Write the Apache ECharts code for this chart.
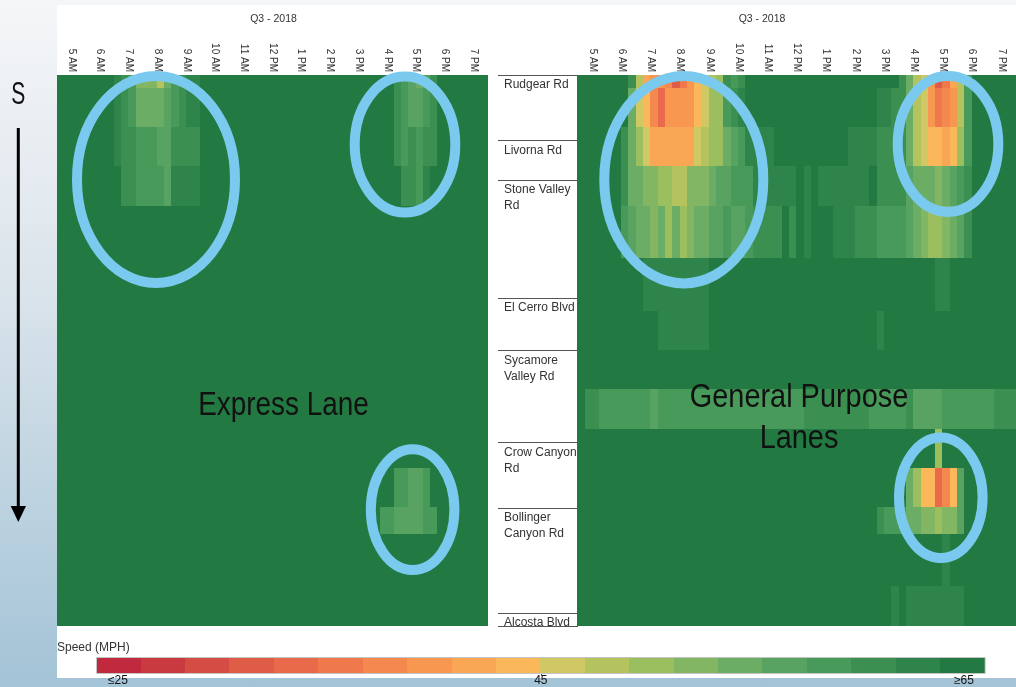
<!DOCTYPE html>
<html>
<head>
<meta charset="utf-8">
<script src="https://cdn.jsdelivr.net/npm/echarts@6/dist/echarts.min.js"></script>
<style>
html,body{margin:0;padding:0;width:1016px;height:687px;overflow:hidden;background:linear-gradient(#f5f6f8 0%,#dce5ec 40%,#a3c3d6 100%);}
#panel{position:absolute;left:57px;top:5px;width:959px;height:673px;background:#fff;}
#chart{position:absolute;left:0;top:0;width:1016px;height:687px;}
</style>
</head>
<body>
<div id="panel"></div>
<div id="chart"></div>
<script>
// ---------- data ----------
const hours = ['5 AM','6 AM','7 AM','8 AM','9 AM','10 AM','11 AM','12 PM','1 PM','2 PM','3 PM','4 PM','5 PM','6 PM','7 PM'];
const binMinutes = [':00',':15',':30',':45'];
const roads = ['Rudgear Rd','Livorna Rd','Stone Valley\nRd','El Cerro Blvd','Sycamore\nValley Rd','Crow Canyon\nRd','Bollinger\nCanyon Rd','Alcosta Blvd'];
const roadStartRows = [0,5,8,17,21,28,33,41];
const rowCount = 42;

// speed bands (mph) of the colour legend
const bandColors = ['#c12a3e','#c93a40','#d54c45','#df5c47','#e86a4a','#f0794b','#f5884e','#f8974f','#f9a754','#fbb85b',
                    '#cfc865','#b4c35d','#9bbe5f','#82b662','#6bad64','#58a362','#489a5b','#3b8f51','#2e844a','#227942'];
const bandEdges = [27,29,31,33,35,37,39,41,43,45,47,49,51,53,55,57,59,61,63];
const bandSpeed = [25,28,30,32,34,36,38,40,42,44,46,48,50,52,54,56,58,60,62,65];
const bandCodes = '0123456789abcdefghi.';
const legendTickValues = [25,45,65];
const legendTickLabels = ['\u226425','45','\u226565'];

// each row: 60 quarter-hour cells (5 AM .. 7:45 PM), one speed-band code per cell
const expressRows = [
'.... .... ihgd ddbe ghii .... .... .... .... .... .... ...h gfef h... ....',
'.... .... ihge eeef ghii .... .... .... .... .... .... ...h gffg h... ....',
'.... .... ihge eeef ghii .... .... .... .... .... .... ...h gffg h... ....',
'.... .... ihge eeef ghii .... .... .... .... .... .... ...h gffg h... ....',
'.... .... ihhg ggff hhhh .... .... .... .... .... .... ...h ghgh h... ....',
'.... .... ihhg ggff hhhh .... .... .... .... .... .... ...h ghgh h... ....',
'.... .... ihhg ggff hhhh .... .... .... .... .... .... ...h ghgh h... ....',
'.... .... .hhg gggf iiii .... .... .... .... .... .... .... hhgi .... ....',
'.... .... .hhg gggf iiii .... .... .... .... .... .... .... hhgi .... ....',
'.... .... .hhg gggf iiii .... .... .... .... .... .... .... hhgi .... ....',
'.... .... .... .... .... .... .... .... .... .... .... .... .... .... ....',
'.... .... .... .... .... .... .... .... .... .... .... .... .... .... ....',
'.... .... .... .... .... .... .... .... .... .... .... .... .... .... ....',
'.... .... .... .... .... .... .... .... .... .... .... .... .... .... ....',
'.... .... .... .... .... .... .... .... .... .... .... .... .... .... ....',
'.... .... .... .... .... .... .... .... .... .... .... .... .... .... ....',
'.... .... .... .... .... .... .... .... .... .... .... .... .... .... ....',
'.... .... .... .... .... .... .... .... .... .... .... .... .... .... ....',
'.... .... .... .... .... .... .... .... .... .... .... .... .... .... ....',
'.... .... .... .... .... .... .... .... .... .... .... .... .... .... ....',
'.... .... .... .... .... .... .... .... .... .... .... .... .... .... ....',
'.... .... .... .... .... .... .... .... .... .... .... .... .... .... ....',
'.... .... .... .... .... .... .... .... .... .... .... .... .... .... ....',
'.... .... .... .... .... .... .... .... .... .... .... .... .... .... ....',
'.... .... .... .... .... .... .... .... .... .... .... .... .... .... ....',
'.... .... .... .... .... .... .... .... .... .... .... .... .... .... ....',
'.... .... .... .... .... .... .... .... .... .... .... .... .... .... ....',
'.... .... .... .... .... .... .... .... .... .... .... .... .... .... ....',
'.... .... .... .... .... .... .... .... .... .... .... .... .... .... ....',
'.... .... .... .... .... .... .... .... .... .... .... .... .... .... ....',
'.... .... .... .... .... .... .... .... .... .... .... ...g gffg .... ....',
'.... .... .... .... .... .... .... .... .... .... .... ...g gffg .... ....',
'.... .... .... .... .... .... .... .... .... .... .... ...g gffg .... ....',
'.... .... .... .... .... .... .... .... .... .... .... .ggf fffg g... ....',
'.... .... .... .... .... .... .... .... .... .... .... .ggf fffg g... ....',
'.... .... .... .... .... .... .... .... .... .... .... .... .... .... ....',
'.... .... .... .... .... .... .... .... .... .... .... .... .... .... ....',
'.... .... .... .... .... .... .... .... .... .... .... .... .... .... ....',
'.... .... .... .... .... .... .... .... .... .... .... .... .... .... ....',
'.... .... .... .... .... .... .... .... .... .... .... .... .... .... ....',
'.... .... .... .... .... .... .... .... .... .... .... .... .... .... ....',
'.... .... .... .... .... .... .... .... .... .... .... .... .... .... ....'
];

const generalRows = [
'.... ...h b877 6357 9abc hgh. .... .... .... .... .... heba 7358 bg.. ....',
'.... ...e a964 7777 9acc ghi. .... .... .... .... .iih heba 7567 bg.. ....',
'.... ...e a964 7777 9acc ghi. .... .... .... .... .iih heba 7567 bg.. ....',
'.... ...e a964 7777 9acc ghi. .... .... .... .... .iih heba 7567 bg.. ....',
'.... ..he ca88 8888 abcc efgi iii. .... .... .iii ihhh heba 9989 cg.. ....',
'.... ..he ca88 8888 abcc efgi iii. .... .... .iii ihhh heba 9989 cg.. ....',
'.... ..he ca88 8888 abcc efgi iii. .... .... .iii ihhh heba 9989 cg.. ....',
'.... ..he eddc cbbd ddef fggg iiii ii.i .iii iiii .hhh hfee edef gh.. ....',
'.... ..he eddc cbbd ddef fggg iiii ii.i .iii iiii .hhh hfee edef gh.. ....',
'.... ..he eddc cbbd ddef fggg iiii ii.i .iii iiii .hhh hfee edef gh.. ....',
'.... ..gf eede cecd eeff gffg hhhh .h.i ...i iihh hggg gfed ccde fh.. ....',
'.... ..gf eede cecd eeff gffg hhhh .h.i ...i iihh hggg gfed ccde fh.. ....',
'.... ..gf eede cecd eeff gffg hhhh .h.i ...i iihh hggg gfed ccde fh.. ....',
'.... ..gf eede cecd eeff gffg hhhh .h.i ...i iihh hggg gfed ccde fh.. ....',
'.... .... .iii iiii ii.. .... .... .... .... .... .... .... .ii. .... ....',
'.... .... .iii iiii ii.. .... .... .... .... .... .... .... .ii. .... ....',
'.... .... .iii iiii ii.. .... .... .... .... .... .... .... .ii. .... ....',
'.... .... .iii iiii ii.. .... .... .... .... .... .... .... .ii. .... ....',
'.... .... ...i iiii ii.. .... .... .... .... .... .i.. .... .... .... ....',
'.... .... ...i iiii ii.. .... .... .... .... .... .i.. .... .... .... ....',
'.... .... ...i iiii ii.. .... .... .... .... .... .i.. .... .... .... ....',
'.... .... .... .... .... .... .... .... .... .... .... .... .... .... ....',
'.... .... .... .... .... .... .... .... .... .... .... .... .... .... ....',
'.... .... .... .... .... .... .... .... .... .... .... .... .... .... ....',
'.hhg gggg ggfg gggg gggg gggg gggg gggh hhhh hhhh gggg ghff ffgg gggg ghhh',
'.hhg gggg ggfg gggg gggg gggg gggg gggh hhhh hhhh gggg ghff ffgg gggg ghhh',
'.hhg gggg ggfg gggg gggg gggg gggg gggh hhhh hhhh gggg ghff ffgg gggg ghhh',
'.... .... .... .... .... .... .... .... .... .... .... .... .c.. .... ....',
'.... .... .... .... .... .... .... .... .... .... .... .... .c.. .... ....',
'.... .... .... .... .... .... .... .... .... .... .... .... .c.. .... ....',
'.... .... .... .... .... .... .... .... .... .... .... .ec9 9469 f... ....',
'.... .... .... .... .... .... .... .... .... .... .... .ec9 9469 f... ....',
'.... .... .... .... .... .... .... .... .... .... .... .ec9 9469 f... ....',
'.... .... .... .... .... .... .... .... .... .... .hgg geed dcdd f... ....',
'.... .... .... .... .... .... .... .... .... .... .hgg geed dcdd f... ....',
'.... .... .... .... .... .... .... .... .... .... .... .... ..i. .... ....',
'.... .... .... .... .... .... .... .... .... .... .... .... ..i. .... ....',
'.... .... .... .... .... .... .... .... .... .... .... .... ..i. .... ....',
'.... .... .... .... .... .... .... .... .... .... .... .... ..i. .... ....',
'.... .... .... .... .... .... .... .... .... .... ...i .iii iiii i... ....',
'.... .... .... .... .... .... .... .... .... .... ...i .iii iiii i... ....',
'.... .... .... .... .... .... .... .... .... .... ...i .iii iiii i... ....'
];

// ---------- build ----------
const bins = hours.flatMap(h => binMinutes.map(m => h + m));
const rowNames = Array.from({length: rowCount}, (_, i) => 'r' + i);
function decode(rows) {
  const out = [];
  rows.forEach((r, y) => {
    const s = r.replace(/ /g, '');
    for (let x = 0; x < s.length; x++) out.push([x, y, bandSpeed[bandCodes.indexOf(s[x])]]);
  });
  return out;
}
const pieces = bandColors.map((c, k) => {
  if (k === 0) return {lt: bandEdges[0], color: c};
  if (k === bandColors.length - 1) return {gte: bandEdges[k - 1], color: c};
  return {gte: bandEdges[k - 1], lt: bandEdges[k], color: c};
});

const sans = "'Liberation Sans', Arial, sans-serif";

const hourAxis = (gi) => ({
  gridIndex: gi, type: 'category', position: 'top', data: hours, boundaryGap: true,
  axisLine: {show: false}, axisTick: {show: false}, splitLine: {show: false},
  axisLabel: {rotate: 90, interval: 0, fontSize: 10, color: '#333', margin: 3, fontFamily: sans}
});
const binAxis = (gi) => ({gridIndex: gi, type: 'category', position: 'bottom', data: bins, show: false, boundaryGap: true});
const rowAxis = (gi) => ({gridIndex: gi, type: 'category', data: rowNames, inverse: true, show: false, boundaryGap: true});

// heat cells: a custom series on category axes, cells snapped to whole pixels so no seams appear
function renderCell(params, api) {
  const c = api.coord([api.value(0), api.value(1)]);
  const s = api.size([1, 1]);
  const x0 = Math.floor(c[0] - s[0] / 2), x1 = Math.ceil(c[0] + s[0] / 2);
  const y0 = Math.floor(c[1] - s[1] / 2), y1 = Math.ceil(c[1] + s[1] / 2);
  return {type: 'rect', shape: {x: x0, y: y0, width: x1 - x0, height: y1 - y0},
          style: {fill: api.visual('color')}};
}
const heat = (xi, yi, data) => ({
  type: 'custom', xAxisIndex: xi, yAxisIndex: yi, data: data, renderItem: renderCell,
  encode: {x: 0, y: 1}, clip: true, silent: true, progressive: 0
});

const ring = (cx, cy, rx, ry) => ({
  type: 'ellipse', shape: {cx, cy, rx, ry}, z: 100, silent: true,
  style: {fill: null, stroke: '#79caee', lineWidth: 10}
});
// condensed caption text (Arial-Narrow look: regular sans squeezed horizontally)
const caption = (x, y, text, size, sx, extra) => ({
  type: 'text', x: x, y: y, scaleX: sx, z: 100, silent: true,
  style: Object.assign({text: text, fontSize: size, fill: '#111', fontFamily: sans, align: 'center', verticalAlign: 'middle'}, extra || {})
});

const option = {
  animation: false,
  visualMap: {type: 'piecewise', show: false, dimension: 2, seriesIndex: [0, 1, 2], pieces: pieces},
  grid: [
    {left: 57, top: 75, width: 431, height: 551},
    {left: 498, top: 75, width: 79.8, height: 551},
    {left: 577.8, top: 75, width: 447, height: 551},
    {left: 96.7, top: 657.7, width: 888.3, height: 15.6}
  ],
  xAxis: [
    binAxis(0), hourAxis(0),
    binAxis(2), hourAxis(2),
    {gridIndex: 1, type: 'value', min: 0, max: 1, show: false},
    {gridIndex: 3, type: 'category', data: bandSpeed.map(String), show: false, boundaryGap: true},
    {gridIndex: 3, type: 'value', min: 24, max: 66, position: 'bottom',
     axisLine: {show: false}, splitLine: {show: false},
     axisTick: {show: true, customValues: [45], length: 3, lineStyle: {color: '#555'}},
     axisLabel: {customValues: legendTickValues, formatter: v => legendTickLabels[legendTickValues.indexOf(v)],
                 margin: 2, fontSize: 12, color: '#111', fontFamily: sans}}
  ],
  yAxis: [
    rowAxis(0), rowAxis(2),
    {gridIndex: 1, type: 'value', min: 0, max: rowCount, inverse: true, position: 'left',
     axisLine: {show: false, onZero: false}, splitLine: {show: false},
     axisTick: {show: true, inside: true, length: 80, customValues: roadStartRows.concat([rowCount]),
                lineStyle: {color: '#555', width: 1}},
     axisLabel: {inside: true, customValues: roadStartRows, formatter: v => roads[roadStartRows.indexOf(v)],
                 verticalAlign: 'top', align: 'left', margin: 6, fontSize: 12, color: '#333', lineHeight: 16,
                 padding: [2, 0, 0, 0], fontFamily: sans}},
    {gridIndex: 3, type: 'category', data: ['speed'], show: false}
  ],
  series: [
    heat(0, 0, decode(expressRows)),
    heat(2, 1, decode(generalRows)),
    heat(5, 3, bandSpeed.map((s, k) => [k, 0, s]))
  ],
  graphic: [
    {type: 'text', x: 273.5, y: 19, z: 100, style: {text: 'Q3 - 2018', fontSize: 10.5, fill: '#333', fontFamily: sans, align: 'center', verticalAlign: 'middle'}},
    {type: 'text', x: 762, y: 19, z: 100, style: {text: 'Q3 - 2018', fontSize: 10.5, fill: '#333', fontFamily: sans, align: 'center', verticalAlign: 'middle'}},
    caption(283.5, 406, 'Express Lane', 34, 0.82),
    caption(799, 418, 'General Purpose\nLanes', 34, 0.85, {lineHeight: 41}),
    {type: 'text', x: 57, y: 647.5, z: 100, style: {text: 'Speed (MPH)', fontSize: 12, fill: '#333', fontFamily: sans, align: 'left', verticalAlign: 'middle'}},
    caption(18.3, 95, 'S', 31, 0.68),
    {type: 'line', z: 100, shape: {x1: 18.3, y1: 128, x2: 18.3, y2: 510}, style: {stroke: '#000', lineWidth: 3}},
    {type: 'polygon', z: 100, shape: {points: [[10.7, 506], [26, 506], [18.3, 522]]}, style: {fill: '#000'}},
    {type: 'rect', z: 100, shape: {x: 96.5, y: 657.5, width: 888.7, height: 16}, style: {fill: null, stroke: '#c4c4c4', lineWidth: 1}},
    ring(156, 179.5, 79, 103.5),
    ring(405, 144.6, 50.3, 68),
    ring(412.6, 509.6, 41.8, 60.4),
    ring(683.8, 179.7, 79.5, 103.7),
    ring(948, 144, 50.3, 68),
    ring(940.8, 497.7, 41.8, 60.3)
  ]
};

const chart = echarts.init(document.getElementById('chart'), null, {renderer: 'canvas', width: 1016, height: 687});
chart.setOption(option);
</script>
</body>
</html>
